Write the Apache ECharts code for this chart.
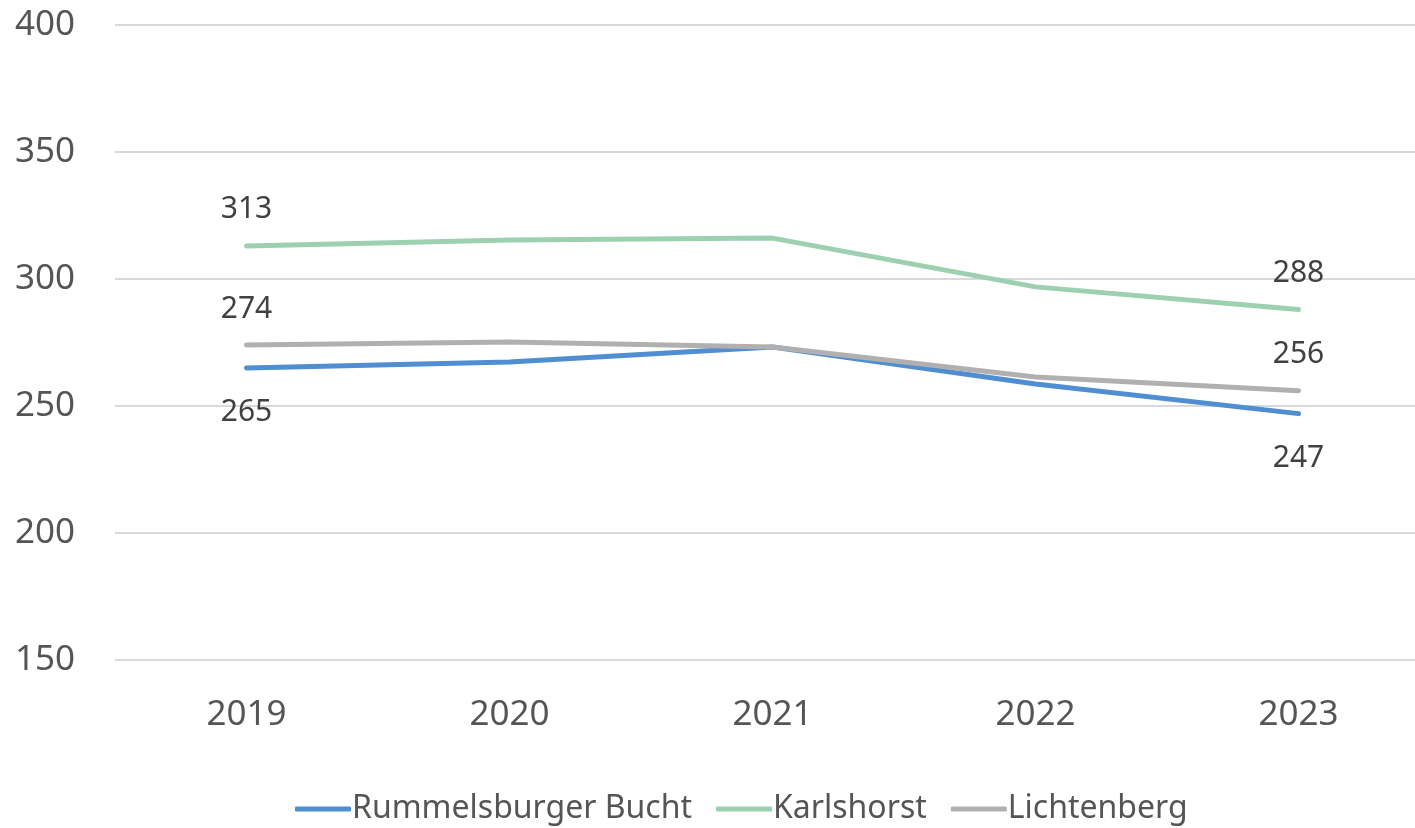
<!DOCTYPE html>
<html><head><meta charset="utf-8">
<script src="https://cdn.jsdelivr.net/npm/echarts@6/dist/echarts.min.js"></script>
<style>html,body{margin:0;padding:0;background:#fff;overflow:hidden}#c{width:1432px;height:828px}</style>
</head><body><div id="c"></div>
<script>
const years = ['2019','2020','2021','2022','2023'];
const rummelsburg = [265, 267.3, 273.2, 258.7, 247];
const karlshorst = [313, 315.4, 316.1, 296.9, 288];
const lichtenberg = [274, 275.2, 273.2, 261.4, 256];
const seriesNames = ['Rummelsburger Bucht','Karlshorst','Lichtenberg'];
const colors = ['#4F8ED0','#9DD0B1','#B0B0B0'];
const labelPos = ['bottom','top','top'];
const labelDist = [30, 21, 21];

function mkData(vals, pos){
  return vals.map((v,i)=>({
    value: v,
    label: {show: i===0 || i===vals.length-1, position: pos}
  }));
}
const all = [rummelsburg, karlshorst, lichtenberg];
const chart = echarts.init(document.getElementById('c'));
chart.setOption({
  animation:false,
  color: colors,
  grid:{left:115, top:25, width:1315, height:635, containLabel:false},
  xAxis:{type:'category', data:years, boundaryGap:true,
    axisLine:{show:false}, axisTick:{show:false},
    axisLabel:{color:'#555', fontSize:35, margin:38, fontFamily:'Noto Sans'}},
  yAxis:{type:'value', min:150, max:400, interval:50,
    axisLine:{show:false}, axisTick:{show:false},
    splitLine:{lineStyle:{color:'#d9d9d9', width:2}},
    axisLabel:{color:'#555', fontSize:35, margin:40, fontFamily:'Noto Sans'}},
  legend:{bottom:-2, left:290, itemWidth:56, itemHeight:5, itemGap:24,
    icon:'roundRect',
    textStyle:{color:'#555', fontSize:32, fontFamily:'Noto Sans', padding:[0,0,0,-4]},
    data:seriesNames},
  series: all.map((vals,k)=>({
    name: seriesNames[k], type:'line', data: mkData(vals, labelPos[k]),
    symbol:'circle', symbolSize:0.1, showSymbol:true, smooth:false,
    itemStyle:{color:colors[k]},
    lineStyle:{width:5, color:colors[k], cap:'round'},
    label:{distance:labelDist[k], fontSize:30, color:'#404040', fontFamily:'Noto Sans'}
  }))
});
</script></body></html>
